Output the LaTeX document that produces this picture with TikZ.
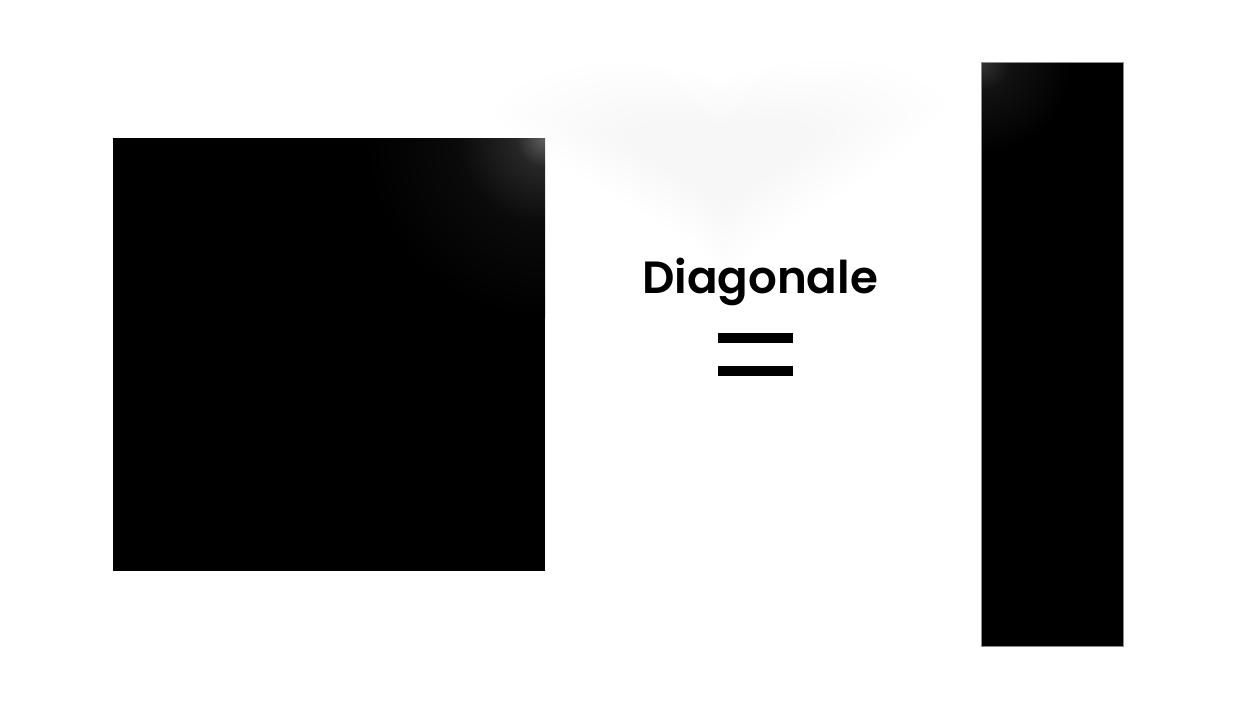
\documentclass[tikz,border=0pt]{standalone}
\usepackage{fontspec}
\setmainfont{Poppins}[BoldFont={Poppins SemiBold}]
\definecolor{gA}{gray}{0.38}
\definecolor{gB}{gray}{0.15}
\definecolor{gC}{gray}{0.04}
\definecolor{rA}{gray}{0.20}
\definecolor{rB}{gray}{0.07}
\definecolor{edgegray}{gray}{0.55}
\pgfdeclareradialshading{sqglow}{\pgfpoint{0bp}{0bp}}{color(0bp)=(gA); color(4bp)=(gB); color(12bp)=(gC); color(25bp)=(black); color(50bp)=(black)}
\pgfdeclareradialshading{rectglow}{\pgfpoint{0bp}{0bp}}{color(0bp)=(rA); color(8bp)=(rB); color(25bp)=(black); color(50bp)=(black)}
\tikzset{
  blockfill/.style={fill=black},
  haze/.style={fill=black, fill opacity=0.003},
  eqbar/.style={fill=black},
  title/.style={font=\fontsize{25.7}{30}\selectfont\bfseries, inner sep=0pt, anchor=base}
}
\begin{document}
\begin{tikzpicture}[x=0.02cm, y=-0.02cm]
\useasboundingbox[fill=white] (0,0) rectangle (1256,708);
% faint haze behind the title
\foreach \s in {1.00,0.92,0.84,0.76,0.68,0.60,0.52,0.44} {
  \fill[haze, scale around={\s:(720,160)}]
    (490,110) .. controls (550,50) and (650,60) .. (720,80)
    .. controls (800,55) and (900,45) .. (946,105)
    .. controls (900,170) and (780,220) .. (727,275)
    .. controls (680,220) and (550,170) .. cycle;
}
% square
\fill[blockfill] (113,138) rectangle (545,571);
\begin{scope}
  \clip (113,138) rectangle (545,571);
  \shade[shading=sqglow] (545,138) circle (180);
\end{scope}
% tall rectangle
\fill[blockfill] (981,62) rectangle (1123,646);
\begin{scope}
  \clip (981,62) rectangle (1123,646);
  \shade[shading=rectglow] (981,62) circle (90);
\end{scope}
\draw[edgegray, line width=0.4pt] (981,62) rectangle (1123,646);
% title and equals sign
\node[title] (label) at (760,293) {Diagonale};
\fill[eqbar] (718,333) rectangle (793,343);
\fill[eqbar] (718,366) rectangle (793,376);
\end{tikzpicture}
\end{document}
